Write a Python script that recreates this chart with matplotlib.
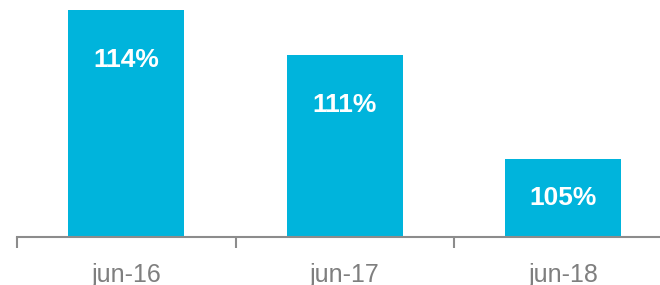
import numpy as np
import matplotlib.pyplot as plt

plt.rcParams['font.family'] = ['Liberation Sans', 'DejaVu Sans']

# 数据
categories = ['jun-16', 'jun-17', 'jun-18']
values = [114.0, 111.2, 104.8]  # %
base = 100

bar_color = '#00B4DC'
axis_color = '#8C8C8C'
text_grey = '#7F7F7F'

fig = plt.figure(figsize=(6.6, 2.85), dpi=100)
ax_h = 237 / 285
ax = fig.add_axes([17 / 660, 48 / 285, 643 / 660, ax_h])

x = np.arange(len(categories))
heights = np.array(values) - base
ax.bar(x, heights, width=0.53, bottom=base, color=bar_color)

# 坐标轴
for s in ['top', 'right', 'left']:
    ax.spines[s].set_visible(False)
ax.spines['bottom'].set_color(axis_color)
ax.spines['bottom'].set_linewidth(1.5)
ax.set_yticks([])

ax.set_xticks(np.arange(len(categories) + 1) - 0.5)
ax.set_xticklabels([])
ax.set_xticks(x, minor=True)
ax.set_xticklabels(categories, minor=True)
ax.tick_params(axis='x', which='major', length=8, width=1.5, color=axis_color)
ax.tick_params(axis='x', which='minor', length=0, labelsize=18, labelcolor=text_grey, pad=19)

ymax = 114.62
ax.set_xlim(-0.5, -0.5 + 643 / 218.5)
ax.set_ylim(base, ymax)

# 标签：离顶部约50像素，矮柱取中点
ppu = 237 / (ymax - base)
for xi, v, h in zip(x, values, heights):
    off = min(50 / ppu, h / 2)
    ax.text(xi, v - off, f'{v:.0f}%', ha='center', va='center', color='white',
            fontsize=19, fontweight='bold')

fig.savefig('out.png', dpi=100)
